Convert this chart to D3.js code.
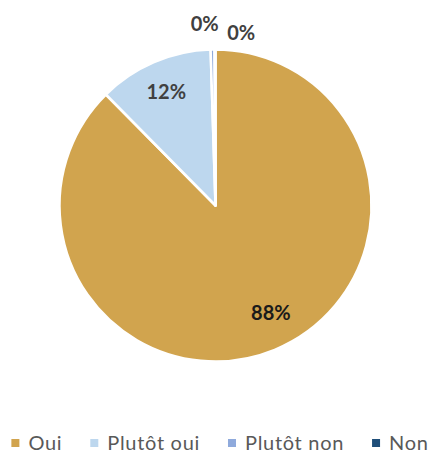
<!DOCTYPE html>
<html>
<head>
<meta charset="utf-8">
<script src="https://cdn.jsdelivr.net/npm/d3@7/dist/d3.min.js"></script>
<style>
  html, body { margin: 0; padding: 0; background: #fff; }
  svg { display: block; }
</style>
</head>
<body>
<svg id="chart" width="434" height="454"></svg>
<script>
// ---- data ----
const categories = ["Oui", "Plutôt oui", "Plutôt non", "Non"];
const values = [87.6, 11.9, 0.4, 0.1];
const labels = ["88%", "12%", "0%", "0%"];
const colors = ["#D1A44E", "#BDD7EE", "#8FAADC", "#1F4E79"];

// ---- layout ----
const W = 434, H = 454;
const cx = 215.5, cy = 205.5, R = 156;
const svg = d3.select("#chart");
const font = "Lato, 'Open Sans', 'Liberation Sans', sans-serif";

const pie = d3.pie().sort(null).value(d => d.v);
const arcs = pie(categories.map((c, i) => ({ c, v: values[i], i })));
const arc = d3.arc().innerRadius(0).outerRadius(R);

const g = svg.append("g").attr("transform", `translate(${cx},${cy})`);
g.selectAll("path.slice").data(arcs).enter().append("path")
  .attr("class", "slice")
  .attr("d", arc)
  .attr("fill", d => colors[d.data.i])
  .attr("stroke", "#fff")
  .attr("stroke-width", 2.5)
  .attr("stroke-linejoin", "round");

// label placement (radius factor and angular shift per slice, Excel best-fit look)
const labelLayout = [
  { k: 0.77, shift: -0.09 },
  { k: 0.80, shift: 0 },
  { k: 1.175, shift: -0.04 },
  { k: 1.125, shift: 0.15 }
];
g.selectAll("text.lbl").data(arcs).enter().append("text")
  .attr("class", "lbl")
  .each(function(d) {
    const L = labelLayout[d.data.i];
    const a = (d.startAngle + d.endAngle) / 2 + L.shift;
    d3.select(this)
      .attr("x", Math.sin(a) * R * L.k)
      .attr("y", -Math.cos(a) * R * L.k);
  })
  .attr("text-anchor", "middle")
  .attr("dominant-baseline", "central")
  .attr("font-family", font)
  .attr("font-weight", "bold")
  .attr("font-size", 20)
  .attr("fill", d => d.data.i === 0 ? "#1a1a1a" : "#404040")
  .text(d => labels[d.data.i]);

// ---- legend ----
const legend = svg.append("g");
const items = legend.selectAll("g.item").data(categories).enter().append("g").attr("class", "item");
items.append("rect").attr("width", 8).attr("height", 8).attr("y", -11)
  .attr("fill", (d, i) => colors[i]);
items.append("text").attr("x", 17).attr("y", 0)
  .attr("font-family", font).attr("font-size", 20).attr("letter-spacing", 0.7)
  .attr("fill", "#595959")
  .text(d => d);
let xPos = 0;
const gap = 28;
items.each(function() {
  const tw = d3.select(this).select("text").node().getComputedTextLength();
  d3.select(this).attr("transform", `translate(${xPos},0)`);
  xPos += 17 + tw + gap;
});
const totalW = xPos - gap;
legend.attr("transform", `translate(${(W - totalW) / 2 + 3},450)`);
</script>
</body>
</html>
